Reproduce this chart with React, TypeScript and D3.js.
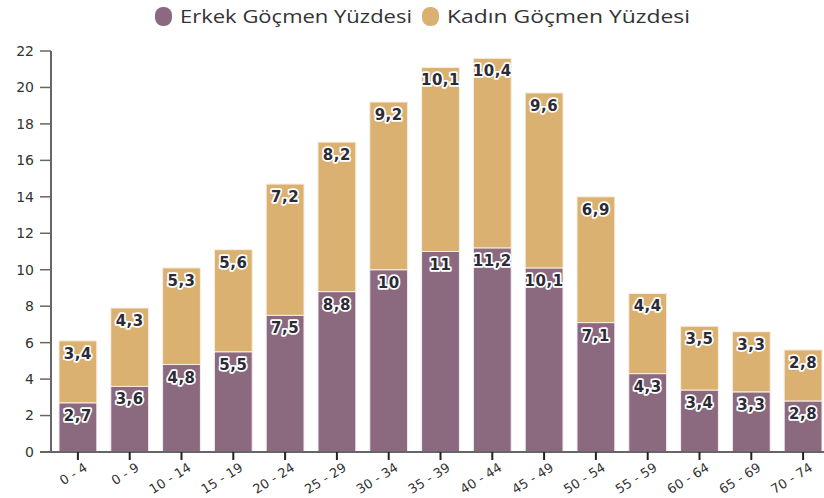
import React from "react";
import * as d3 from "d3";

const categories = ["0 - 4","0 - 9","10 - 14","15 - 19","20 - 24","25 - 29","30 - 34","35 - 39","40 - 44","45 - 49","50 - 54","55 - 59","60 - 64","65 - 69","70 - 74"];
const maleValues = [2.7,3.6,4.8,5.5,7.5,8.8,10,11,11.2,10.1,7.1,4.3,3.4,3.3,2.8];
const femaleValues = [3.4,4.3,5.3,5.6,7.2,8.2,9.2,10.1,10.4,9.6,6.9,4.4,3.5,3.3,2.8];
const yTicks = [0,2,4,6,8,10,12,14,16,18,20,22];
const seriesNames = ["Erkek Göçmen Yüzdesi","Kadın Göçmen Yüzdesi"];
const seriesColors = ["#8b6a80","#dbb172"];

const W = 824, H = 498;
const fmt = (v: number) => String(v).replace(".", ",");

export default function App() {
  const x = d3.scaleBand<string>().domain(categories).range([52, 829]).paddingInner(0.27).paddingOuter(0.135);
  const y = d3.scaleLinear().domain([0, 22]).range([452, 51]);
  const bw = x.bandwidth();
  const axisColor = "#666";
  const labelFont = "'DejaVu Sans', Verdana, sans-serif";

  return (
    <svg width={W} height={H} style={{ position: "absolute", left: 0, top: 0, background: "#fff" }}>
      {/* legend */}
      <g fontFamily="'Open Sans', 'Noto Sans', sans-serif" fontSize={18} fill="#333">
        <rect x={155} y={7} width={17} height={19} rx={8} fill={seriesColors[0]} />
        <text x={180} y={23} textLength={232} lengthAdjust="spacingAndGlyphs">{seriesNames[0]}</text>
        <rect x={422} y={7} width={17} height={19} rx={8} fill={seriesColors[1]} />
        <text x={447} y={23} textLength={243} lengthAdjust="spacingAndGlyphs">{seriesNames[1]}</text>
      </g>

      {/* bars */}
      {categories.map((c, i) => {
        const m = maleValues[i];
        const f = femaleValues[i];
        const x0 = x(c)!;
        return (
          <g key={c}>
            <rect x={x0} y={y(m)} width={bw} height={y(0) - y(m)} fill={seriesColors[0]} stroke="#f4eef2" strokeWidth={1} />
            <rect x={x0} y={y(m + f)} width={bw} height={y(m) - y(m + f)} fill={seriesColors[1]} stroke="#f7efe2" strokeWidth={1} />
          </g>
        );
      })}

      {/* value labels */}
      <g fontFamily={labelFont} fontWeight="bold" fontSize={15} textAnchor="middle">
        {categories.map((c, i) => {
          const m = maleValues[i];
          const f = femaleValues[i];
          const cx = x(c)! + bw / 2;
          return (
            <g key={c}>
              <text x={cx} y={y(m) + 18} fill="#2b2b36" stroke="#fff" strokeWidth={3.5} strokeLinejoin="round" paintOrder="stroke" letterSpacing={0.5}>{fmt(m)}</text>
              <text x={cx} y={y(m + f) + 18} fill="#2b2b36" stroke="#fff" strokeWidth={3.5} strokeLinejoin="round" paintOrder="stroke" letterSpacing={0.5}>{fmt(f)}</text>
            </g>
          );
        })}
      </g>

      {/* y axis */}
      <line x1={51} x2={51} y1={y(22)} y2={y(0)} stroke={axisColor} strokeWidth={2} />
      <g fontFamily={labelFont} fontSize={14} fill="#333" textAnchor="end">
        {yTicks.map(t => (
          <g key={t}>
            <line x1={40} x2={51} y1={y(t)} y2={y(t)} stroke={axisColor} strokeWidth={1.5} />
            <text x={34} y={y(t)} dy="0.35em">{t}</text>
          </g>
        ))}
      </g>

      {/* x axis */}
      <line x1={40} x2={824} y1={y(0)} y2={y(0)} stroke={axisColor} strokeWidth={2} />
      <g fontFamily={labelFont} fontSize={13} fill="#333" textAnchor="end">
        {categories.map(c => {
          const cx = x(c)! + bw / 2;
          return (
            <g key={c}>
              <line x1={cx} x2={cx} y1={y(0)} y2={y(0) + 8} stroke="#222" strokeWidth={2} />
              <text transform={`translate(${cx + 8},${y(0) + 14}) rotate(-32)`} dy="0.35em">{c}</text>
            </g>
          );
        })}
      </g>
    </svg>
  );
}
